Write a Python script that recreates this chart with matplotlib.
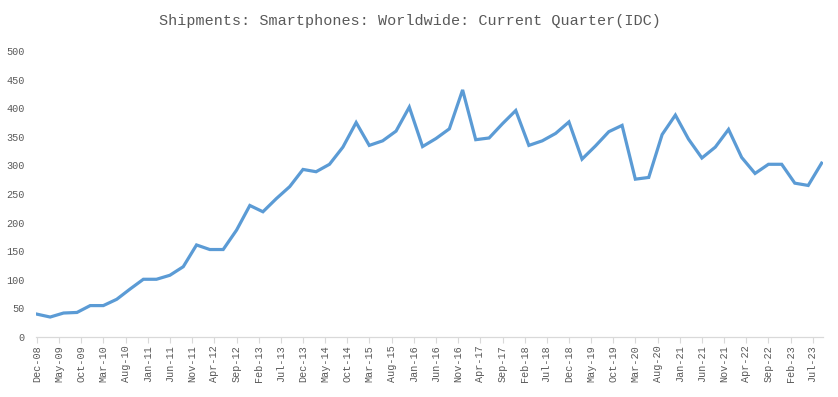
import matplotlib
matplotlib.use("Agg")
import matplotlib.pyplot as plt
import matplotlib.dates as mdates
import pandas as pd

title = "Shipments: Smartphones: Worldwide: Current Quarter(IDC)"

# quarterly shipments, millions of units, Dec-08 .. Sep-23
shipments = [40, 35, 42, 43, 55, 55, 66, 84, 101, 101,
             108, 123, 161, 153, 153, 187, 230, 219, 242, 263,
             293, 289, 302, 332, 375, 335, 343, 360, 402, 333,
             347, 364, 432, 345, 348, 373, 396, 335, 343, 356,
             376, 311, 334, 359, 370, 276, 279, 354, 388, 346,
             313, 332, 363, 314, 286, 302, 302, 269, 265, 304]
quarters = pd.date_range("2008-12-01", periods=len(shipments), freq="3MS")

tick_labels = ["Dec-08", "May-09", "Oct-09", "Mar-10", "Aug-10", "Jan-11",
               "Jun-11", "Nov-11", "Apr-12", "Sep-12", "Feb-13", "Jul-13",
               "Dec-13", "May-14", "Oct-14", "Mar-15", "Aug-15", "Jan-16",
               "Jun-16", "Nov-16", "Apr-17", "Sep-17", "Feb-18", "Jul-18",
               "Dec-18", "May-19", "Oct-19", "Mar-20", "Aug-20", "Jan-21",
               "Jun-21", "Nov-21", "Apr-22", "Sep-22", "Feb-23", "Jul-23"]
tick_dates = pd.to_datetime(tick_labels, format="%b-%y")
y_ticks = [0, 50, 100, 150, 200, 250, 300, 350, 400, 450, 500]

grey = "#595959"
mono = "Liberation Mono"

fig = plt.figure(figsize=(8.38, 3.97), dpi=100)
ax = fig.add_axes([0.043, 0.151, 0.939, 0.7205])

ax.plot(quarters, shipments, color="#5b9bd5", linewidth=2.3,
        solid_joinstyle="miter")

ax.set_ylim(0, 500)
ax.set_yticks(y_ticks)
ax.set_xlim(quarters[0] - pd.Timedelta(days=7), quarters[-1] + pd.Timedelta(days=9))
ax.set_xticks(tick_dates)
ax.set_xticklabels(tick_labels, rotation=90, fontfamily=mono, fontsize=7.3, color=grey)
for lab in ax.get_yticklabels():
    lab.set_fontfamily(mono)
    lab.set_fontsize(7.3)
    lab.set_color(grey)

ax.tick_params(axis="y", length=0, pad=8)
ax.tick_params(axis="x", length=4, width=0.8, color="#d9d9d9", pad=2)
for side in ["top", "right", "left"]:
    ax.spines[side].set_visible(False)
ax.spines["bottom"].set_color("#d9d9d9")
ax.spines["bottom"].set_linewidth(0.9)

fig.text(0.4895, 0.947, title, ha="center", va="center",
         fontfamily=mono, fontsize=10.9, color=grey)

fig.savefig("out.png", dpi=100)
